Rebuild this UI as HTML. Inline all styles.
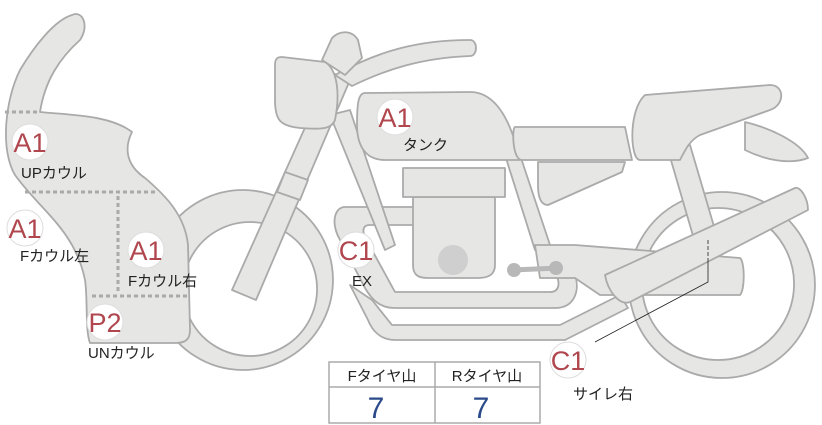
<!DOCTYPE html>
<html><head><meta charset="utf-8"><style>
html,body{margin:0;padding:0;background:#fff;width:822px;height:425px;overflow:hidden}
svg{display:block}
text{font-family:"Liberation Sans","Noto Sans CJK JP",sans-serif}
</style></head><body>
<svg width="822" height="425" viewBox="0 0 822 425" xmlns="http://www.w3.org/2000/svg">
<g fill="#e6e6e4" stroke="#aaa" stroke-width="1.8" stroke-linejoin="round">
<!-- rear wheel -->
<path fill-rule="evenodd" d="M722,192 a93,93 0 1,1 -0.1,0 Z M718,208 a76,76 0 1,0 0.1,0 Z"/>
<!-- front wheel -->
<path fill-rule="evenodd" d="M243,190 a90,90 0 1,1 -0.1,0 Z M250,222 a67,67 0 1,0 0.1,0 Z"/>
<!-- exhaust pipes -->
<path d="M345,207 L440,207 L440,225 L370,225 C360,225 362,235 372,250 L395,292 L550,292 C560,292 560,282 556,275 L575,275 C580,290 575,308 555,308 L395,308 C380,308 372,300 365,288 L340,240 C330,222 335,207 345,207 Z"/>
<path d="M372,300 L392,325 L560,325 L620,295 L628,308 L565,340 L395,340 C380,340 372,330 368,320 L350,285 Z"/>
<!-- frame -->
<path d="M330,115 L350,110 L395,245 L385,250 Z"/>
<path d="M505,155 L520,155 L550,245 L535,250 Z"/>
<!-- swingarm -->
<path d="M535,245 L575,245 L740,258 C745,262 745,290 740,295 L600,295 L575,278 L540,278 Z"/>
<!-- shock -->
<path d="M668,150 L690,145 L718,240 L696,246 Z"/>
<!-- engine -->
<path d="M413,197 L495,197 L495,265 C495,275 488,278 478,278 L428,278 C418,278 413,275 413,265 Z"/>
<rect x="403" y="168" width="102" height="29"/>
<!-- tank -->
<path d="M365,93 L470,92 C498,92 512,125 520,160 L385,160 C365,160 357,145 357,125 C357,105 358,93 365,93 Z"/>
<!-- seats -->
<path d="M515,127 L625,127 L632,160 L522,160 C512,160 512,127 515,127 Z"/>
<path d="M538,162 L625,162 L622,172 L548,205 C540,205 538,195 538,185 Z"/>
<path d="M745,122 C770,128 800,142 808,158 C790,165 765,160 745,150 Z"/>
<path d="M645,95 L770,85 C785,85 785,105 770,110 L700,135 C690,140 685,150 680,160 L640,160 C630,160 628,110 645,95 Z"/>
<!-- muffler -->
<path d="M605,275 L795,188 C800,186 808,198 808,210 L630,302 C620,306 608,292 605,275 Z"/>
<!-- fork -->
<path d="M232,290 L330,72 L350,80 L256,300 Z"/>
<path d="M285,172 L308,180 L300,200 L277,192 Z"/>
<!-- handlebar -->
<path d="M335,75 C380,50 420,40 470,40 C478,40 478,56 470,56 C420,58 385,70 352,86 Z"/>
<!-- headlight -->
<path d="M282,57 L325,62 C338,70 340,95 335,120 C332,128 325,130 300,128 C280,126 275,120 275,100 L275,65 C275,58 278,57 282,57 Z"/>
<path d="M322,60 L332,38 C340,30 352,30 358,40 L362,58 L345,75 Z"/>
<!-- cowl -->
<path d="M72,15 C82,10 90,25 80,40 C60,58 45,80 40,112 C70,115 110,115 132,132 C124,148 126,165 145,178 C165,195 185,215 188,245 L190,330 C190,340 185,343 175,343 L90,343 C85,330 88,300 85,280 C75,230 40,210 15,175 C0,150 5,100 20,70 C35,45 55,20 72,15 Z"/>
</g>
<circle cx="453" cy="260" r="15" fill="#cfcfcf"/>
<g stroke="#b8b8b8" stroke-width="5" stroke-linecap="round"><line x1="512" y1="270" x2="560" y2="268"/></g>
<circle cx="514" cy="270" r="7" fill="#b8b8b8"/><circle cx="556" cy="268" r="7" fill="#b8b8b8"/>
<g stroke="#aaa" stroke-width="3" stroke-dasharray="4 3" fill="none">
<line x1="5" y1="112" x2="40" y2="112"/>
<line x1="25" y1="192" x2="155" y2="192"/>
<line x1="118" y1="196" x2="118" y2="294"/>
<line x1="92" y1="296" x2="190" y2="296"/>
</g>
<g stroke="#222" stroke-width="0.8" fill="none">
<polyline points="595,342 708,282 708,262"/>
<line x1="708" y1="262" x2="708" y2="238" stroke-dasharray="4 2"/>
</g>
<g fill="#fff" stroke="#ddd" stroke-width="1">
<circle cx="30" cy="142" r="18"/><circle cx="25" cy="228" r="18"/><circle cx="146" cy="250" r="18"/>
<circle cx="105" cy="322" r="18"/><circle cx="395" cy="117" r="18"/><circle cx="356" cy="250" r="18"/><circle cx="568" cy="360" r="18"/>
</g>
<g fill="#b0464e" font-size="27" text-anchor="middle">
<text x="30" y="152">A1</text><text x="25" y="238">A1</text><text x="146" y="260">A1</text>
<text x="105" y="332">P2</text><text x="395" y="127">A1</text><text x="356" y="260">C1</text><text x="568" y="370">C1</text>
</g>
<g fill="#222" font-size="15">
<text x="21" y="178">UPカウル</text><text x="20" y="261">Fカウル左</text><text x="128" y="286">Fカウル右</text>
<text x="88" y="358">UNカウル</text><text x="403" y="150">タンク</text><text x="352" y="286">EX</text><text x="573" y="399">サイレ右</text>
</g>
<g fill="#fff" stroke="#aaa" stroke-width="1.5">
<rect x="329" y="362" width="211" height="61"/>
<line x1="329" y1="387" x2="540" y2="387"/><line x1="435" y1="362" x2="435" y2="423"/>
</g>
<g fill="#222" font-size="15" text-anchor="middle"><text x="382" y="381">Fタイヤ山</text><text x="487" y="381">Rタイヤ山</text></g>
<g fill="#2a4a8a" font-size="30" text-anchor="middle"><text x="376" y="418">7</text><text x="481" y="418">7</text></g>
</svg>
</body></html>
